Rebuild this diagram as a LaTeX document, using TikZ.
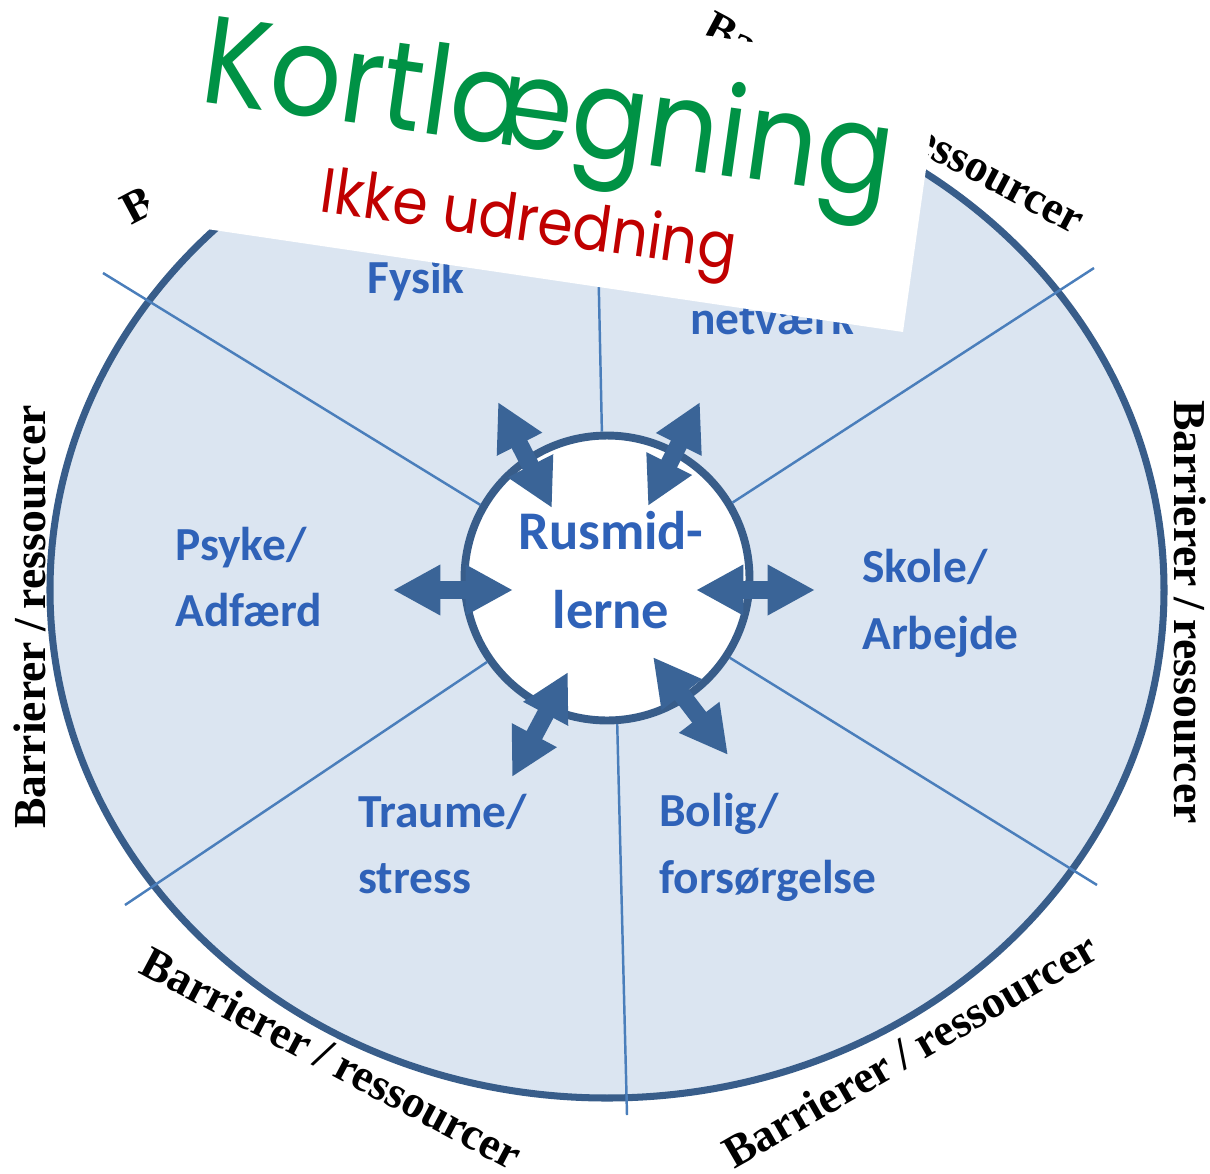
\documentclass[tikz,border=0pt]{standalone}
\usepackage{fontspec}
\newfontfamily\sectorfont{Carlito}
\newfontfamily\edgefont{Liberation Serif}
\newfontfamily\bannerfont[FakeStretch=0.9]{Poppins}
\usetikzlibrary{arrows.meta}
\definecolor{ringblue}{HTML}{385D8A}
\definecolor{fillblue}{HTML}{DBE5F1}
\definecolor{spokeblue}{HTML}{4A7EBB}
\definecolor{arrowblue}{HTML}{3A6497}
\definecolor{textblue}{HTML}{2F62B8}
\definecolor{kortgreen}{HTML}{009245}
\definecolor{ikkered}{HTML}{C00000}
\newcommand{\barrtext}{Barrierer\hspace{0.22em}/\hspace{0.22em}ressourcer}

\begin{document}
\begin{tikzpicture}[x=0.02cm, y=-0.02cm,
  ring/.style={draw=ringblue, fill=fillblue, line width=4pt},
  core/.style={circle, draw=ringblue, fill=white, line width=4.5pt, minimum size=5.7cm, inner sep=0pt},
  spoke/.style={draw=spokeblue, line width=1.4pt},
  dblarrow/.style={draw=arrowblue, line width=10pt, {Triangle[length=27pt,width=27pt]}-{Triangle[length=27pt,width=27pt]}},
  area/.style={font=\sectorfont\bfseries\fontsize{27}{38}\selectfont, text=textblue, align=left, inner sep=0pt},
  barlabel/.style={font=\edgefont\bfseries\fontsize{26}{30}\selectfont, inner sep=0pt}]
\clip (0,0) rectangle (1210,1173);
% outer ring and centre
\draw[ring] (607,590) ellipse [x radius=557, y radius=508];
\node[core] (core) at (607,578) {};
% spokes
\coordinate (sp-t) at (598,250);
\coordinate (sp-ul) at (103,273);
\coordinate (sp-ur) at (1094,268);
\coordinate (sp-ll) at (125,905);
\coordinate (sp-lr) at (1097,885);
\coordinate (sp-b) at (627,1115);
\draw[spoke] (core.92) -- (sp-t);
\draw[spoke] (core.150) -- (sp-ul);
\draw[spoke] (core.31) -- (sp-ur);
\draw[spoke] (core.-145) -- (sp-ll);
\draw[spoke] (core.-33) -- (sp-lr);
\draw[spoke] (core.-86) -- (sp-b);
% arrows
\coordinate (in-l) at (513,590);   \coordinate (out-l) at (393,590);
\coordinate (in-r) at (696,590);   \coordinate (out-r) at (815,590);
\coordinate (in-ul) at (552,508);  \coordinate (out-ul) at (498,402);
\coordinate (in-ur) at (648,506);  \coordinate (out-ur) at (700,402);
\coordinate (in-ll) at (568,672);  \coordinate (out-ll) at (512,777);
\coordinate (in-lr) at (653,657);  \coordinate (out-lr) at (728,755);
\foreach \d in {l,r,ul,ur,ll,lr}
  \draw[dblarrow] (in-\d) -- (out-\d);
% texts
\node[area, font=\sectorfont\bfseries\fontsize{31}{45}\selectfont, align=center] (rusmid) at (611,570) {Rusmid-\\lerne};
\node[area, anchor=base] (fysik) at (416,293) {Fysik};
\node[area, anchor=base] (netvaerk) at (772,334) {netværk};
\node[area, anchor=west] (psyke) at (175,577) {Psyke/\\Adfærd};
\node[area, anchor=west] (skole) at (862,603) {Skole/\\Arbejde};
\node[area, anchor=west] (traume) at (358,844) {Traume/\\stress};
\node[area, anchor=west] (bolig) at (659,847) {Bolig/\\forsørgelse};
% barrierer / ressourcer
\node[barlabel, rotate=90] (bar-l) at (30,617) {\barrtext};
\node[barlabel, rotate=-90] (bar-r) at (1190,612) {\barrtext};
\node[barlabel, rotate=-28] (bar-bl) at (332,1058) {\barrtext};
\node[barlabel, rotate=30] (bar-br) at (910,1050) {\barrtext};
\node[barlabel, rotate=-28] (bar-tr) at (895,122) {\barrtext};
\node[barlabel, rotate=28] (bar-tl) at (311,112) {\barrtext};
% banner
\fill[white] (146,220) -- (903,332) -- (940,70) -- (183,-42) -- cycle;
\node[anchor=base, rotate=-8, inner sep=0pt, text=kortgreen, font=\bannerfont\fontsize{71}{80}\selectfont] (kort) at (543,150) {Kortlægning};
\node[anchor=base, rotate=-8, inner sep=0pt, text=ikkered, font=\bannerfont\fontsize{36}{40}\selectfont] (ikke) at (526,241) {Ikke udredning};
\end{tikzpicture}
\end{document}
